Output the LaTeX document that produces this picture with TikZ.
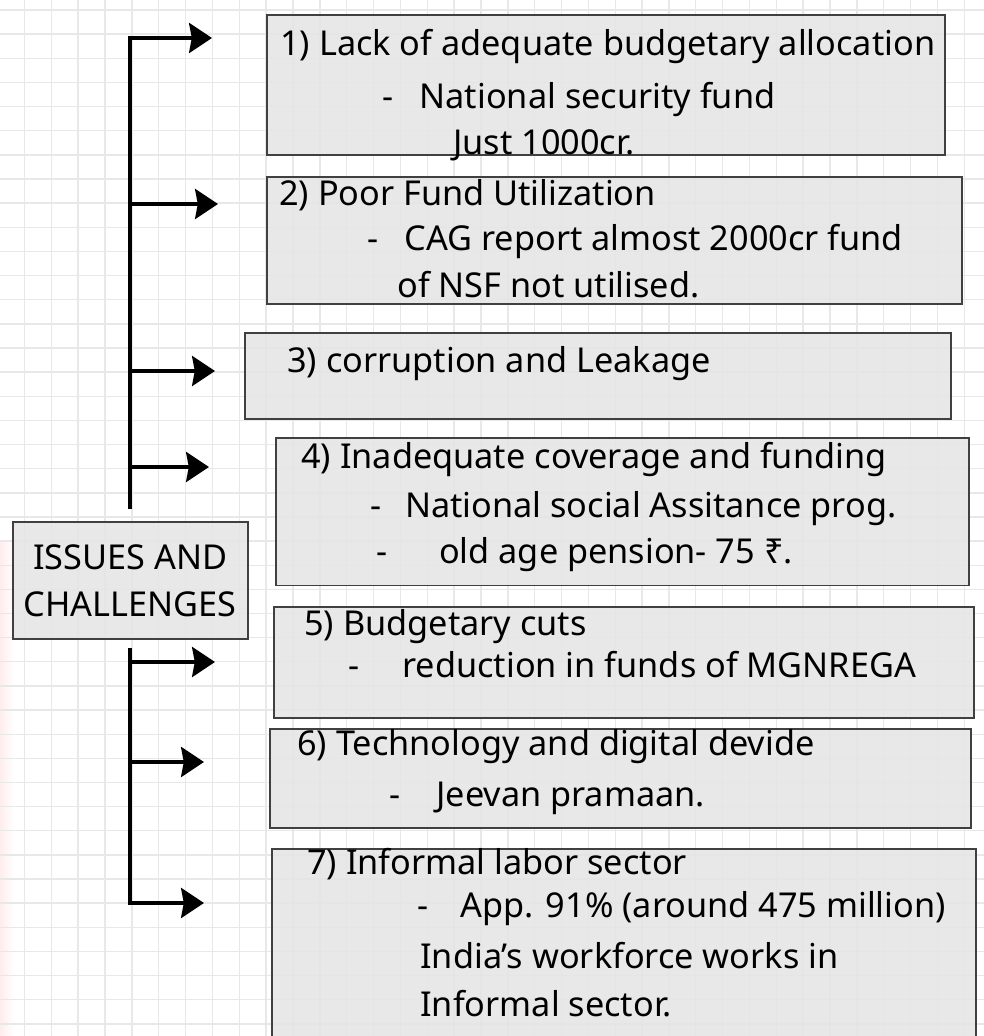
\documentclass[tikz,border=0pt]{standalone}
\usepackage{fontspec}
\setmainfont{Noto Sans}
\usetikzlibrary{arrows.meta}

\begin{document}
\begin{tikzpicture}[x=0.02cm, y=-0.02cm,
    gridline/.style={black!9, line width=0.8pt},
    box/.style={draw=black!75, line width=1.1pt, fill=black!10, fill opacity=0.85, text opacity=1, inner sep=0pt},
    txt/.style={anchor=base west, inner sep=0pt, font=\fontsize{19.5}{24}\selectfont},
    branch/.style={line width=2.3pt, -{Stealth[length=13pt, width=17pt, inset=1.5pt]}}]
  \useasboundingbox (0,0) rectangle (984,1036);
  \clip (0,0) rectangle (984,1036);
  \fill[white] (0,0) rectangle (984,1036);
  \shade[left color=red!7, right color=white] (0,540) rectangle (14,1036);
  \foreach \i in {0,...,36}{
    \draw[gridline] ({24.5+26.85*\i},0) -- ++(0,1036);
  }
  \foreach \j in {0,...,42}{
    \draw[gridline] (0,{10+24.14*\j}) -- ++(984,0);
  }

  \node[box, minimum width=13.56cm, minimum height=2.8cm] (b1) at (606,85) {};
  \node[box, minimum width=13.9cm, minimum height=2.54cm] (b2) at (614.5,240.5) {};
  \node[box, minimum width=14.12cm, minimum height=1.72cm] (b3) at (598,376) {};
  \node[box, minimum width=13.87cm, minimum height=2.95cm] (b4) at (622.75,511.75) {};
  \node[box, minimum width=14.0cm, minimum height=2.22cm] (b5) at (624,662.5) {};
  \node[box, minimum width=14.02cm, minimum height=1.98cm] (b6) at (620.5,778.5) {};
  \node[box, minimum width=14.08cm, minimum height=4.02cm] (b7) at (624,949.5) {};
  \node[box, minimum width=4.7cm, minimum height=2.35cm, align=center,
        font=\fontsize{19.5}{27}\selectfont] (issues) at (130.3,580.5) {ISSUES AND\\CHALLENGES};

  \coordinate (a1) at (212,38);
  \coordinate (a2) at (218,204);
  \coordinate (a3) at (215,371);
  \coordinate (a4) at (209,467);
  \coordinate (a5) at (215,662);
  \coordinate (a6) at (204,762);
  \coordinate (a7) at (204,903);
  \coordinate (top) at (131,38);

  \draw[branch] ([yshift=6.8pt]issues.north) |- (a1);
  \draw[branch] (top |- a2) -- (a2);
  \draw[branch] (top |- a3) -- (a3);
  \draw[branch] (top |- a4) -- (a4);
  \draw[branch] ([yshift=-4.5pt]issues.south) |- (a7);
  \draw[branch] (top |- a5) -- (a5);
  \draw[branch] (top |- a6) -- (a6);

  \node[txt] (l1a) at (280,55) {1) Lack of adequate budgetary allocation};
  \node[txt] (l1b) at (382,108) {-\hspace{15pt}National security fund};
  \node[txt] (l1c) at (453,154) {Just 1000cr.};
  \node[txt] (l2a) at (279,205) {2) Poor Fund Utilization};
  \node[txt] (l2b) at (367,250) {-\hspace{15pt}CAG report almost 2000cr fund};
  \node[txt] (l2c) at (397,297) {of NSF not utilised.};
  \node[txt] (l3a) at (287,372) {3) corruption and Leakage};
  \node[txt] (l4a) at (301,468) {4) Inadequate coverage and funding};
  \node[txt] (l4b) at (370,517) {-\hspace{13.5pt}National social Assitance prog.};
  \node[txt] (l4c) at (376,563) {-\hspace{29.5pt}old age pension- 75 ₹.};
  \node[txt] (l5a) at (304,635) {5) Budgetary cuts};
  \node[txt] (l5b) at (348,677) {-\hspace{24.5pt}reduction in funds of MGNREGA};
  \node[txt] (l6a) at (297,755) {6) Technology and digital devide};
  \node[txt] (l6b) at (389,806) {-\hspace{20.5pt}Jeevan pramaan.};
  \node[txt] (l7a) at (307,874) {7) Informal labor sector};
  \node[txt] (l7b) at (417,917) {-\hspace{18.5pt}App. 91\% (around 475 million)};
  \node[txt] (l7c) at (420,968) {India's workforce works in};
  \node[txt] (l7d) at (420,1016) {Informal sector.};
\end{tikzpicture}
\end{document}
